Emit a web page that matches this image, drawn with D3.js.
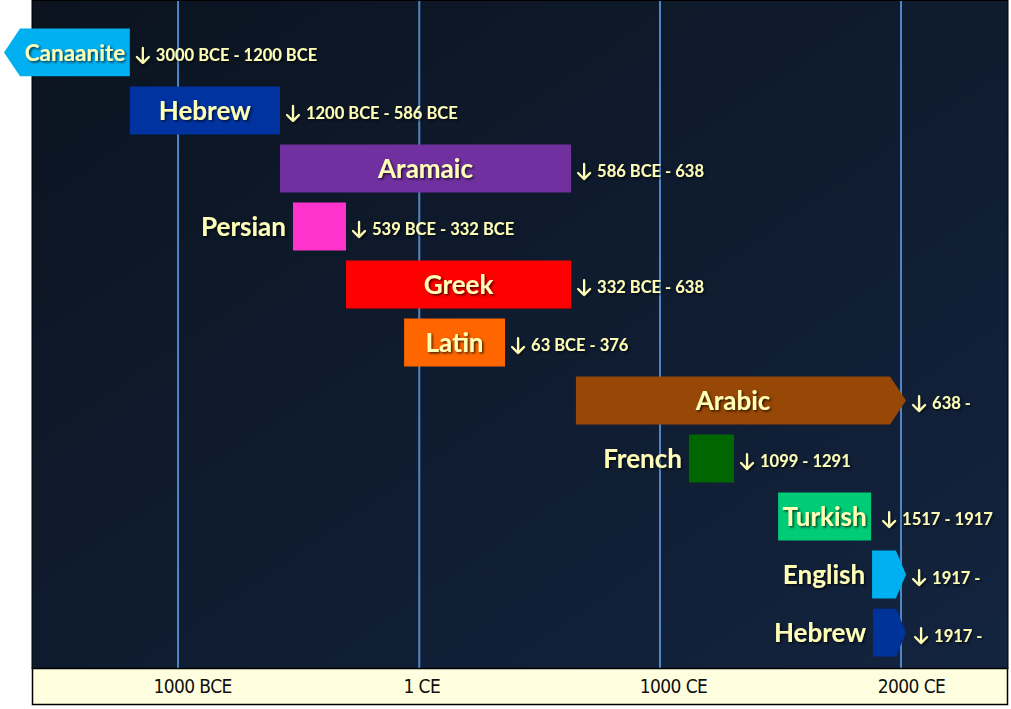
<!DOCTYPE html>
<html><head><meta charset="utf-8">
<script src="https://cdn.jsdelivr.net/npm/d3@7"></script>
<style>
html,body{margin:0;padding:0;background:#fff;}
svg{display:block;}
</style></head>
<body>
<script>
// ---- data ----
const languages = ["Canaanite","Hebrew","Aramaic","Persian","Greek","Latin","Arabic","French","Turkish","English","Hebrew"];
// bar extents (years, negative = BCE) as drawn in the picture
const barStart = [-3000,-1200,-577,-523,-303,-62,651,1120,1490,1880,1884];
const barEnd   = [-1200,-577,631,-303,631,357,2021,1307,1876,2021,2021];
const openStart = [true,false,false,false,false,false,false,false,false,false,false];
const openEnd   = [false,false,false,false,false,false,true,false,false,true,true];
const periodLabels = ["3000 BCE - 1200 BCE","1200 BCE - 586 BCE","586 BCE - 638","539 BCE - 332 BCE","332 BCE - 638","63 BCE - 376","638 -","1099 - 1291","1517 - 1917","1917 -","1917 -"];
const colors = ["#00b0f0","#0033a0","#7030a0","#ff33cc","#ff0000","#ff6600","#974706","#006600","#00cc77","#00b0f0","#003399"];
const nameInside = [true,true,true,false,true,true,true,false,true,false,false];
const tickValues = [-1000,1,1000,2000];
const tickLabels = ["1000 BCE","1 CE","1000 CE","2000 CE"];

// ---- layout ----
const W = 1011, H = 709;
const plot = {left:32, right:1008, top:0, bottom:668};
const axisBottom = 705;
const tickDx = [14,2,13,10];
const periodGap = [6,6,6,6,6,6,6,6,11,6,8];

const svg = d3.select("body").append("svg").attr("width",W).attr("height",H);
const defs = svg.append("defs");
const grad = defs.append("linearGradient").attr("id","bg").attr("x1","0").attr("y1","0").attr("x2","1").attr("y2","1");
grad.append("stop").attr("offset","0").attr("stop-color","#0b131f");
grad.append("stop").attr("offset","1").attr("stop-color","#13243f");
const f = defs.append("filter").attr("id","sh").attr("x","-10%").attr("y","-30%").attr("width","130%").attr("height","170%");
f.append("feDropShadow").attr("dx",1.5).attr("dy",1.5).attr("stdDeviation",1).attr("flood-color","#000").attr("flood-opacity",0.7);

const x = d3.scaleLinear().domain([-1606, 2444]).range([plot.left, plot.right]);
const y = d3.scaleBand().domain(d3.range(languages.length)).range([28.5, 656.5]).paddingInner(0.175).paddingOuter(0);

// background
svg.append("rect").attr("x",plot.left).attr("y",plot.top).attr("width",plot.right-plot.left).attr("height",plot.bottom-plot.top).attr("fill","url(#bg)");

// gridlines
svg.append("g").selectAll("line").data(tickValues).join("line")
  .attr("x1",d=>x(d)).attr("x2",d=>x(d)).attr("y1",plot.top).attr("y2",plot.bottom)
  .attr("stroke","#4f86c6").attr("stroke-width",2);

// axis band
svg.append("rect").attr("x",plot.left+0.5).attr("y",plot.bottom+0.5).attr("width",plot.right-plot.left-1).attr("height",axisBottom-plot.bottom-1)
  .attr("fill","#ffffe0").attr("stroke","#000").attr("stroke-width",1.5);
const axis = d3.axisBottom(x).tickValues(tickValues).tickFormat((d,i)=>tickLabels[i]).tickSize(0);
const ax = svg.append("g").attr("transform",`translate(0,${plot.bottom})`).call(axis);
ax.select(".domain").remove();
ax.selectAll("text").attr("dy",null).attr("y",25).attr("dx",(d,i)=>tickDx[i])
  .attr("font-family","'Liberation Sans Narrow','DejaVu Sans Condensed',sans-serif")
  .attr("font-size",19).attr("fill","#111").attr("letter-spacing",-0.6);

// plot border
svg.append("rect").attr("x",plot.left).attr("y",plot.top+0.5).attr("width",plot.right-plot.left).attr("height",plot.bottom-plot.top)
  .attr("fill","none").attr("stroke","#000").attr("stroke-width",1);

const FONT = "Lato, 'Open Sans', sans-serif";
const TXT = "#ffffb8";

const rows = languages.map((name,i)=>{
  let x0 = openStart[i] ? plot.left-12 : x(barStart[i]);
  let x1 = x(barEnd[i]);
  const h = y.bandwidth();
  const y0 = y(i);
  let depth = Math.min(16, 0.3*(x1-x0));
  return {i,name,x0,x1,y0,h,depth};
});

const g = svg.append("g");
g.selectAll("path.bar").data(rows).join("path").attr("class","bar")
  .attr("fill",d=>colors[d.i])
  .attr("d",d=>{
    const p = d3.path();
    const ym = d.y0+d.h/2, yb = d.y0+d.h;
    if(openStart[d.i]){
      p.moveTo(d.x0,d.y0); p.lineTo(d.x1,d.y0); p.lineTo(d.x1,yb); p.lineTo(d.x0,yb); p.lineTo(d.x0-d.depth,ym);
    } else if(openEnd[d.i]){
      p.moveTo(d.x0,d.y0); p.lineTo(d.x1-d.depth,d.y0); p.lineTo(d.x1,ym); p.lineTo(d.x1-d.depth,yb); p.lineTo(d.x0,yb);
    } else {
      p.rect(d.x0,d.y0,d.x1-d.x0,d.h);
    }
    p.closePath();
    return p.toString();
  });

// names
g.selectAll("text.name").data(rows).join("text").attr("class","name")
  .attr("x",d=>{
    if(nameInside[d.i]){
      if(openEnd[d.i]) return (d.x0+d.x1-d.depth)/2;
      return (d.x0+d.x1)/2;
    }
    return d.x0-7;
  })
  .attr("y",d=>d.y0+d.h/2)
  .attr("dy","0.36em")
  .attr("text-anchor",d=>nameInside[d.i]?"middle":"end")
  .attr("font-family",FONT).attr("font-weight","bold")
  .attr("font-size",d=>d.i===0?22.5:26)
  .attr("fill",TXT).attr("filter","url(#sh)")
  .text(d=>d.name);

// period labels: drawn arrow + text
const per = g.selectAll("g.per").data(rows).join("g").attr("class","per")
  .attr("transform",d=>`translate(${d.x1+periodGap[d.i]},${d.y0+d.h/2+3})`)
  .attr("filter","url(#sh)");
per.append("path")
  .attr("d","M7,-7.5 L7,7.5 M1,1.5 L7,7.5 L13,1.5")
  .attr("fill","none").attr("stroke",TXT).attr("stroke-width",2.2).attr("stroke-linecap","round").attr("stroke-linejoin","round");
per.append("text").attr("x",20).attr("dy","0.36em")
  .attr("font-family",FONT).attr("font-weight","bold").attr("font-size",16.5)
  .attr("fill",TXT)
  .text(d=>periodLabels[d.i]);
</script>
</body></html>
